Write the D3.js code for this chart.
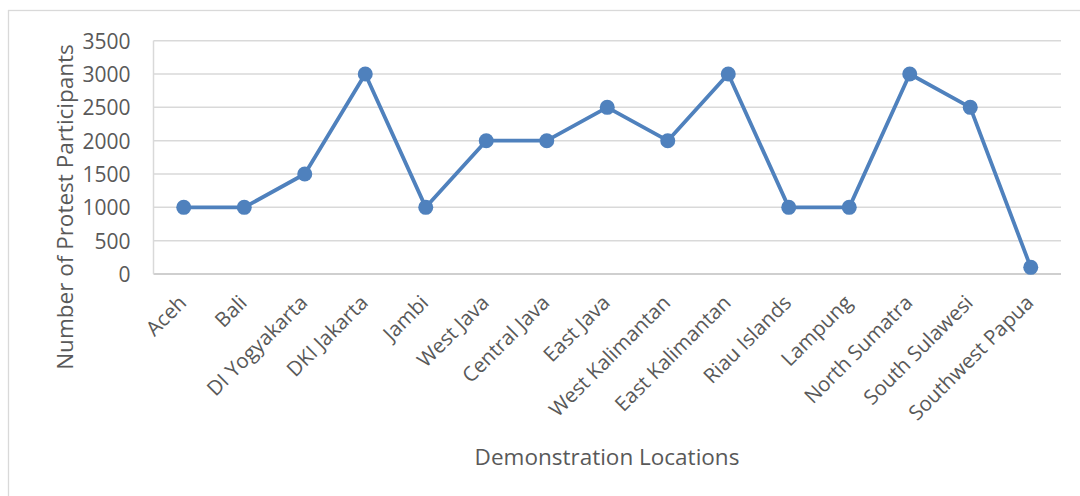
<!DOCTYPE html>
<html><head><meta charset="utf-8">
<script src="https://cdn.jsdelivr.net/npm/d3@7"></script>
<style>body{margin:0;background:#fff}svg{display:block}text{font-family:"Open Sans",sans-serif;fill:#595959}</style>
</head><body><svg id="c" width="1080" height="496"></svg>
<script>
const categories = ["Aceh","Bali","DI Yogyakarta","DKI Jakarta","Jambi","West Java","Central Java","East Java","West Kalimantan","East Kalimantan","Riau Islands","Lampung","North Sumatra","South Sulawesi","Southwest Papua"];
const participants = [1000,1000,1500,3000,1000,2000,2000,2500,2000,3000,1000,1000,3000,2500,100];
const yTicks = [0,500,1000,1500,2000,2500,3000,3500];
const xTitle = "Demonstration Locations";
const yTitle = "Number of Protest Participants";

const svg = d3.select("#c");
const L = 153.5, R = 1061, T = 40.7, B = 274;
svg.append("rect").attr("x",8.5).attr("y",10.5).attr("width",1100).attr("height",520)
  .attr("fill","none").attr("stroke","#d9d9d9").attr("stroke-width",1.3);

const x = d3.scaleBand().domain(categories).range([L,R]);
const y = d3.scaleLinear().domain([0,3500]).range([B,T]);

svg.append("g").selectAll("line").data(yTicks.filter(d=>d>0)).join("line")
  .attr("x1",L).attr("x2",R).attr("y1",d=>y(d)).attr("y2",d=>y(d))
  .attr("stroke","#d9d9d9").attr("stroke-width",1.5);
svg.append("line").attr("x1",L).attr("x2",R).attr("y1",B).attr("y2",B).attr("stroke","#bfbfbf").attr("stroke-width",1.5);
svg.append("line").attr("x1",L).attr("x2",L).attr("y1",T).attr("y2",B).attr("stroke","#d9d9d9").attr("stroke-width",1.5);

const ya = svg.append("g").attr("transform",`translate(${L},0)`)
  .call(d3.axisLeft(y).tickValues(yTicks).tickFormat(d3.format("d")).tickSize(0).tickPadding(23));
ya.select(".domain").remove();
ya.selectAll("text").style("font-size","21px").attr("fill","#595959").attr("dy","0.35em");

const xa = svg.append("g").attr("transform",`translate(0,${B})`).call(d3.axisBottom(x).tickSize(0).tickPadding(0));
xa.select(".domain").remove();
xa.selectAll("text").style("font-size","20.5px").attr("fill","#595959")
  .attr("text-anchor","end").attr("dy",0).attr("y",0)
  .attr("transform","translate(4,30) rotate(-45)");

svg.append("text").attr("x",607).attr("y",465).attr("text-anchor","middle").style("font-size","22.5px").text(xTitle);
svg.append("text").attr("transform","translate(73,207) rotate(-90)").attr("text-anchor","middle").style("font-size","22.5px").text(yTitle);

const line = d3.line().x((d,i)=>x(categories[i])+x.bandwidth()/2).y(d=>y(d));
svg.append("path").datum(participants).attr("d",line).attr("fill","none").attr("stroke","#4f81bd").attr("stroke-width",3.8).attr("stroke-linejoin","round");
svg.append("g").selectAll("circle").data(participants).join("circle")
  .attr("cx",(d,i)=>x(categories[i])+x.bandwidth()/2).attr("cy",d=>y(d)).attr("r",7.5).attr("fill","#4f81bd");
</script></body></html>
